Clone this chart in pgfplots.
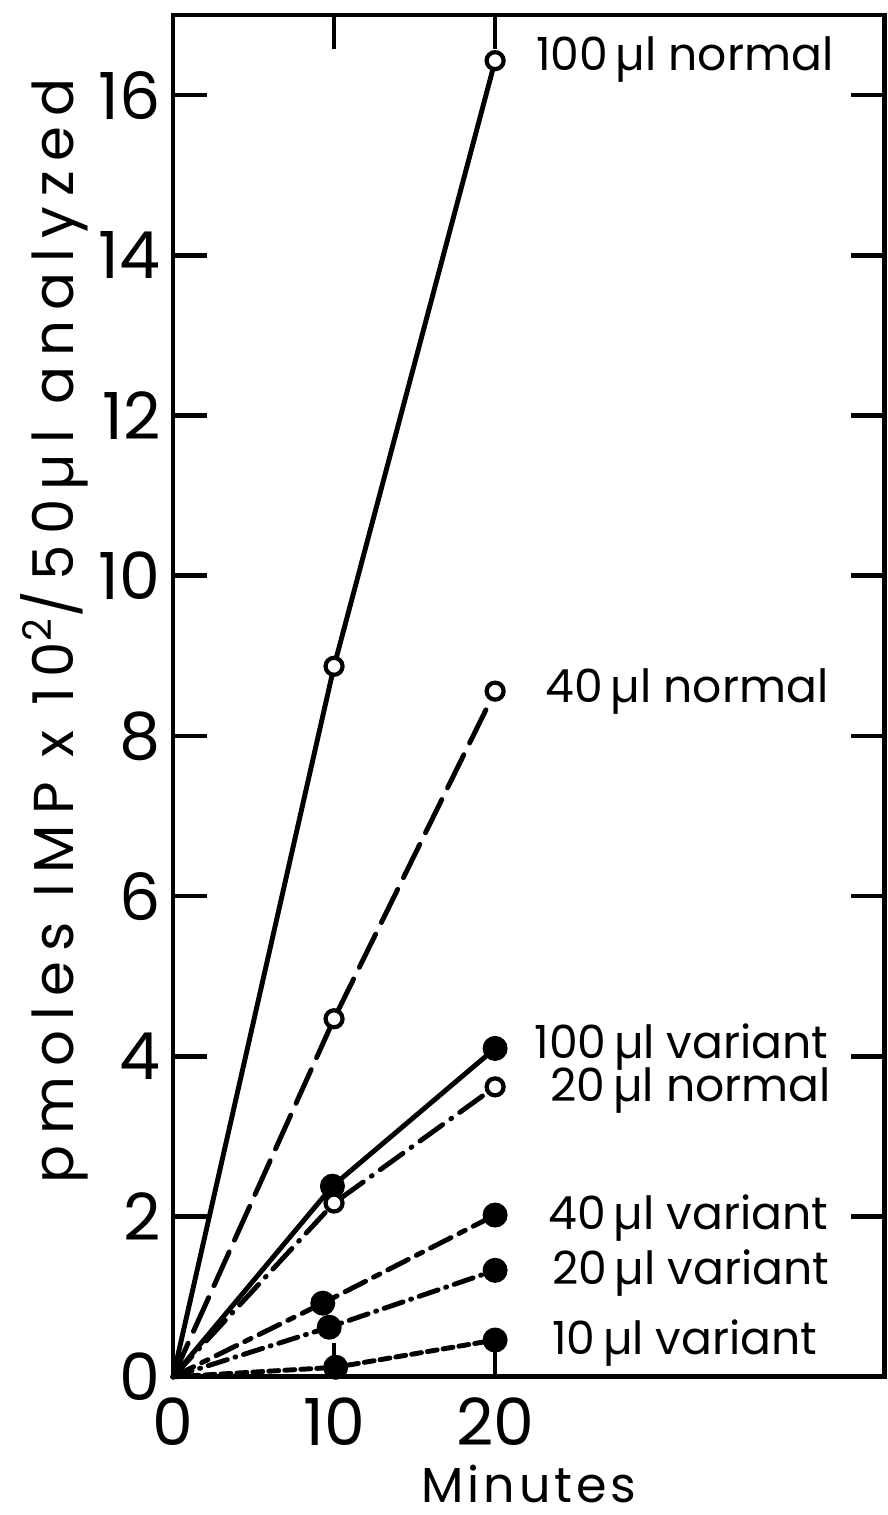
\documentclass[border=0pt]{standalone}
\usepackage{pgfplots}
\pgfplotsset{compat=1.18}
\usepackage{fontspec}
\setmainfont{Poppins}

% line styles
\tikzset{
  lnormal/.style={line width=1.4pt, line cap=round},
  dashA/.style={dash pattern=on 3.7mm off 1.3mm},
  dashB/.style={dash pattern=on 2.8mm off 1mm on 0.1mm off 1mm},
  dashC/.style={dash pattern=on 2.3mm off 0.9mm on 0.7mm off 0.9mm},
  dashD/.style={dash pattern=on 2mm off 0.8mm on 0.1mm off 0.8mm},
  dashE/.style={dash pattern=on 1mm off 0.6mm},
  openmk/.style={mark=*, mark size=0.85mm, mark options={solid, fill=white, line width=1.2pt}},
  fullmk/.style={mark=*, mark size=1mm, mark options={solid, fill=black}},
}

\begin{document}
\begin{tikzpicture}
\begin{axis}[
    scale only axis,
    width=71.2mm, height=136.2mm,
    xmin=0, xmax=44.2, ymin=0, ymax=17,
    xtick={0,10,20}, ytick={0,2,...,16},
    tick align=inside,
    major tick length=3.4mm,
    axis line style={line width=1.4pt},
    every tick/.style={black, line width=1.3pt},
    /pgf/number format/assume math mode=true,
    tick label style={font=\fontsize{18.5}{21}\selectfont},
    xticklabel style={yshift=-0.8mm},
    xlabel={Minutes},
    xlabel style={at={(axis description cs:0.5,-0.0925)}, anchor=base,
      font=\fontsize{14}{16}\selectfont\addfontfeature{LetterSpace=8}},
    ylabel={pmoles IMP x 10\textsuperscript{2}/50\,µl analyzed},
    ylabel style={at={(axis description cs:-0.166,0.548)}, anchor=center,
      font=\fontsize{16}{19}\selectfont\addfontfeature{LetterSpace=18}},
    clip=false,
    every axis plot/.append style={lnormal, black},
    mark indices={2,3},
]
% 100 ul normal
\addplot[openmk] coordinates {(0,0) (10,8.87) (20,16.43)};
% 40 ul normal
\addplot[openmk, dashA] coordinates {(0,0) (10,4.47) (20,8.56)};
% 100 ul variant
\addplot[fullmk] coordinates {(0,0) (9.9,2.38) (20,4.1)};
% 20 ul normal
\addplot[openmk, dashB] coordinates {(0,0) (10,2.17) (20,3.62)};
% 40 ul variant
\addplot[fullmk, dashC] coordinates {(0,0) (9.3,0.92) (20,2.02)};
% 20 ul variant
\addplot[fullmk, dashD] coordinates {(0,0) (9.7,0.62) (20,1.33)};
% 10 ul variant
\addplot[fullmk, dashE] coordinates {(0,0) (10.1,0.12) (20,0.46)};

\begin{scope}[every node/.style={anchor=west, font=\fontsize{13}{15}\selectfont, inner sep=0pt}]
\node at (axis cs:22.5,16.45) {100\,µl normal};
\node at (axis cs:23.1,8.55) {40\,µl normal};
\node at (axis cs:22.4,4.12) {100\,µl variant};
\node at (axis cs:23.4,3.58) {20\,µl normal};
\node at (axis cs:23.3,1.98) {40\,µl variant};
\node at (axis cs:23.5,1.30) {20\,µl variant};
\node at (axis cs:23.5,0.42) {10\,µl variant};
\end{scope}
\end{axis}
\path (current axis.south west) ++(-17.3mm,-13.8mm);
\path (current axis.north east) ++(0.2mm,1.5mm);
\end{tikzpicture}
\end{document}
